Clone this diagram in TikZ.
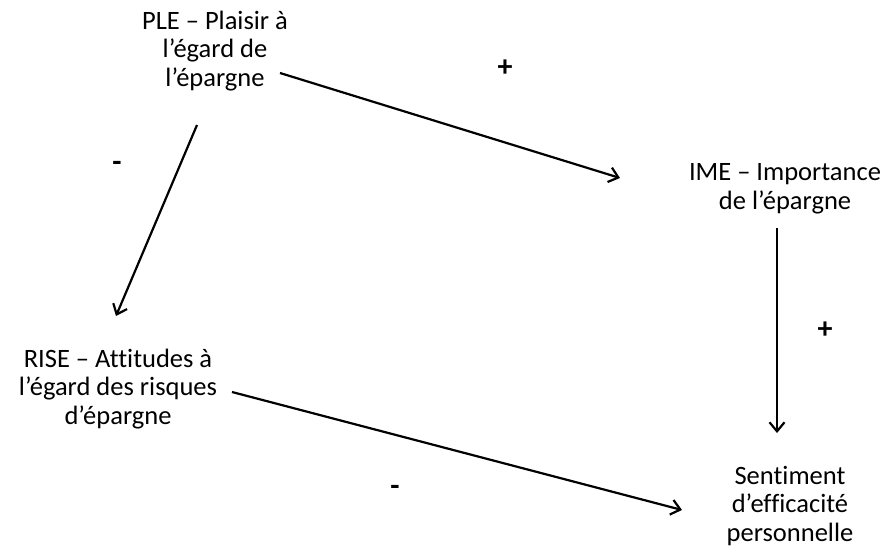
\documentclass[tikz,border=0pt]{standalone}
\usepackage{fontspec}
\setmainfont{Carlito}[Ligatures={NoCommon}]
\usetikzlibrary{arrows.meta}
\begin{document}
\begin{tikzpicture}[x=1pt,y=-1pt,
  lbl/.style={inner sep=0pt,align=center,font=\fontsize{26.5}{28.5}\selectfont},
  sign/.style={inner sep=0pt,font=\fontsize{30}{32}\selectfont\bfseries},
  conn/.style={line width=2.2pt,-{Straight Barb[length=9pt,width=15pt,line width=2.2pt]}}]
\useasboundingbox (0,0) rectangle (887,553);
\node[lbl] (ple) at (215,51) {PLE – Plaisir à\\l’égard de\\l’épargne};
\node[lbl] (ime) at (785,189) {IME – Importance\\de l’épargne};
\node[lbl] (rise) at (118,389) {RISE – Attitudes à\\l’égard des risques\\d’épargne};
\node[lbl] (sent) at (790,506) {Sentiment\\d’efficacité\\personnelle};
\coordinate (a1s) at (280,73);
\coordinate (a1e) at (620,178);
\coordinate (a2s) at (197,125);
\coordinate (a2e) at (116,316);
\coordinate (a3s) at (777,228);
\coordinate (a3e) at (777,433);
\coordinate (a4s) at (232,392);
\coordinate (a4e) at (682,510);
\draw[conn] (a1s) -- (a1e);
\draw[conn] (a2s) -- (a2e);
\draw[conn] (a3s) -- (a3e);
\draw[conn] (a4s) -- (a4e);
\node[sign] (p1) at (505,68) {+};
\node[sign] (m1) at (117,166) {-};
\node[sign] (p2) at (825,330) {+};
\node[sign] (m2) at (395,490) {-};
\end{tikzpicture}
\end{document}
